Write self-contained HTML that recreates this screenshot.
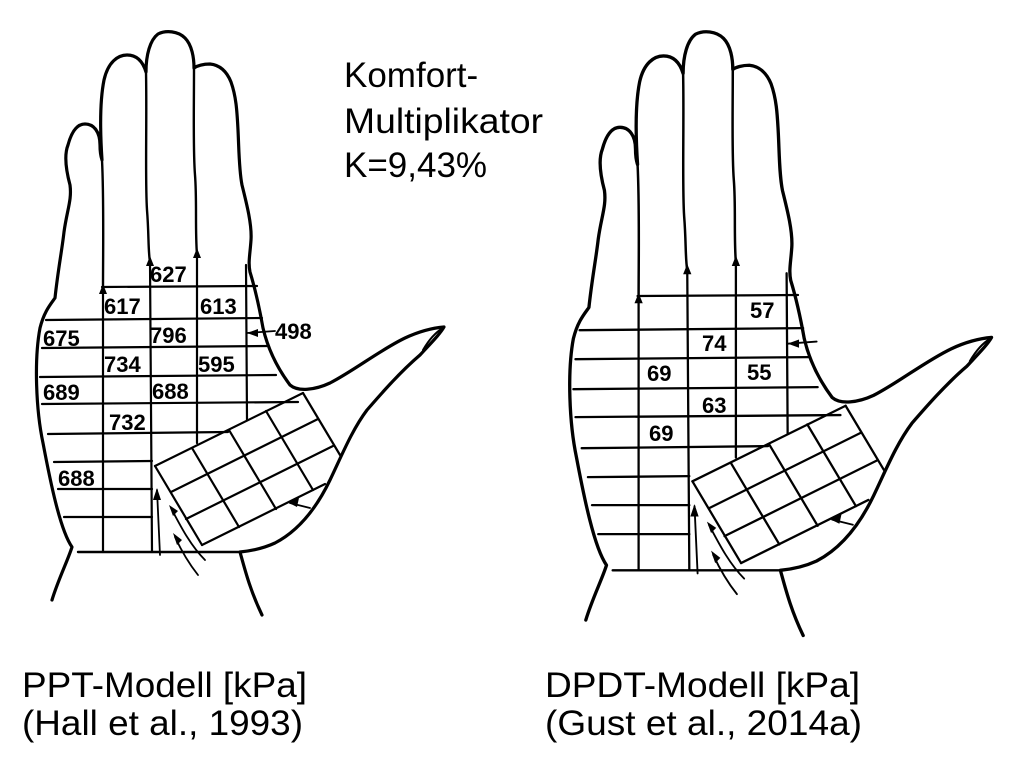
<!DOCTYPE html>
<html><head><meta charset="utf-8"><style>
html,body{margin:0;padding:0;background:#fff;}
svg{display:block;}
text{font-family:"Liberation Sans",Arial,sans-serif;}
.n{font-size:22px;font-weight:bold;fill:#000;}
.t{font-size:35px;fill:#000;}
</style></head><body>
<svg width="1024" height="760" viewBox="0 0 1024 760" xmlns="http://www.w3.org/2000/svg">
<defs>
<g id="hand" fill="none" stroke="#000" stroke-linecap="round" stroke-linejoin="round">
  <path stroke-width="3.2" d="M52,600 C58,580 68,560 72,547 C60,530 50,480 43,443 C36,410 34,360 40,328 C44,312 50,305 55,298 C58,270 62,250 64,232 C67,210 72,200 70,185 C66,170 64,155 68,145 C72,130 78,124 85,124 C94,124 100,132 100,145 C100,152 101,157 102,160 C100,130 100,100 104,80 C108,62 118,55 127,55 C137,55 143,62 146,72 C146,55 150,40 158,34 C166,30 178,31 185,38 C192,45 194,58 194,68 C197,66 203,64 210,64 C220,65 227,72 231,82 C236,96 237,110 238,130 C239,150 239,170 242,185 C247,205 252,225 251,240 C250,255 248,262 250,272 C254,285 258,300 263,328 C267,345 275,365 290,385 C298,392 315,390 330,383 C355,370 380,350 405,338 C420,331 432,328 444,327 C440,334 432,342 420,355 C400,372 380,395 367,410 C352,430 342,455 330,480 C318,505 300,530 275,543 C262,549 250,551 240,552 C245,570 250,590 262,615"/>
  <path stroke-width="2" d="M423,350 C430,338 436,332 443,328"/>
  <path stroke-width="2.4" d="M240,552 L78,552"/>
  <path stroke-width="2.4" d="M102,160 C104,200 103,250 103,290"/>
  <path stroke-width="2.4" d="M146,72 C147,120 145,180 147,210 C149,235 148,250 150,262"/>
  <path stroke-width="2.4" d="M194,68 C194,110 193,150 195,175 C197,200 195,230 197,255"/>
  <g stroke-width="2.2">
  <line x1="102" y1="287" x2="257" y2="286"/>
  <line x1="46" y1="320" x2="262" y2="318"/>
  <line x1="42" y1="348" x2="268" y2="346"/>
  <line x1="40" y1="377" x2="276" y2="375"/>
  <line x1="42" y1="404" x2="298" y2="402"/>
  <line x1="48" y1="434" x2="228" y2="432"/>
  <line x1="54" y1="462" x2="152" y2="461"/>
  <line x1="58" y1="489" x2="152" y2="489"/>
  <line x1="64" y1="517" x2="152" y2="517"/>
  <line x1="103" y1="290" x2="103" y2="552"/>
  <line x1="150" y1="262" x2="152" y2="552"/>
  <line x1="197" y1="255" x2="197" y2="443"/>
  <line x1="246" y1="265" x2="247" y2="420"/>
  </g>
  <g fill="#000" stroke="none">
  <path d="M103,284 L99,294 L107,294Z"/>
  <path d="M150,256 L146,266 L154,266Z"/>
  <path d="M197,248 L193,258 L201,258Z"/>
  <path d="M247,333 L258,329 L258,337Z"/>
  <path d="M157,488 L153,500 L161,500Z"/>
  <path d="M287,502 L299,498 L297,507Z"/>
  <path d="M169,505 L173,516 L178,511Z"/>
  <path d="M173,533 L177,545 L182,540Z"/>
  </g>
  <g stroke-width="1.8">
  <line x1="247" y1="333" x2="275" y2="331"/>
  <line x1="157" y1="490" x2="160" y2="555"/>
  <line x1="290" y1="503" x2="310" y2="508"/>
  <path d="M171,508 C180,525 190,545 205,560"/>
  <path d="M175,537 C182,552 190,565 198,575"/>
  </g>
  <!-- thumb grid: 4 cols x 3 rows -->
  <g stroke-width="2.2">
  <line x1="155" y1="466" x2="303" y2="393"/>
  <line x1="171" y1="492" x2="318" y2="419"/>
  <line x1="186" y1="519" x2="333" y2="446"/>
  <line x1="202" y1="545" x2="325" y2="484"/>
  <line x1="155" y1="466" x2="202" y2="545"/>
  <line x1="192" y1="448" x2="239" y2="527"/>
  <line x1="229" y1="430" x2="276" y2="509"/>
  <line x1="266" y1="411" x2="313" y2="490"/>
  <line x1="303" y1="393" x2="340" y2="455"/>
  </g>
</g>
</defs>

<use href="#hand"/>
<use href="#hand" transform="translate(532,-1) scale(1.035)"/>

<g>
<text x="150" y="282" class="n">627</text>
<text x="104" y="314" class="n">617</text>
<text x="200" y="314" class="n">613</text>
<text x="43" y="346" class="n">675</text>
<text x="150" y="343" class="n">796</text>
<text x="104" y="372" class="n">734</text>
<text x="198" y="372" class="n">595</text>
<text x="43" y="400" class="n">689</text>
<text x="152" y="399" class="n">688</text>
<text x="109" y="430" class="n">732</text>
<text x="58" y="486" class="n">688</text>
<text x="275" y="339" class="n">498</text>
</g>
<g>
<text x="750" y="318" class="n">57</text>
<text x="702" y="351" class="n">74</text>
<text x="647" y="381" class="n">69</text>
<text x="747" y="380" class="n">55</text>
<text x="702" y="413" class="n">63</text>
<text x="649" y="441" class="n">69</text>
</g>

<text x="344" y="87" class="t">Komfort-</text>
<text x="344" y="133" class="t" textLength="199" lengthAdjust="spacingAndGlyphs">Multiplikator</text>
<text x="344" y="177" class="t">K=9,43%</text>

<text x="22" y="697" class="t" textLength="285" lengthAdjust="spacingAndGlyphs">PPT-Modell [kPa]</text>
<text x="22" y="735" class="t" textLength="281" lengthAdjust="spacingAndGlyphs">(Hall et al., 1993)</text>
<text x="545" y="697" class="t" textLength="315" lengthAdjust="spacingAndGlyphs">DPDT-Modell [kPa]</text>
<text x="545" y="735" class="t" textLength="317" lengthAdjust="spacingAndGlyphs">(Gust et al., 2014a)</text>
</svg>
</body></html>
